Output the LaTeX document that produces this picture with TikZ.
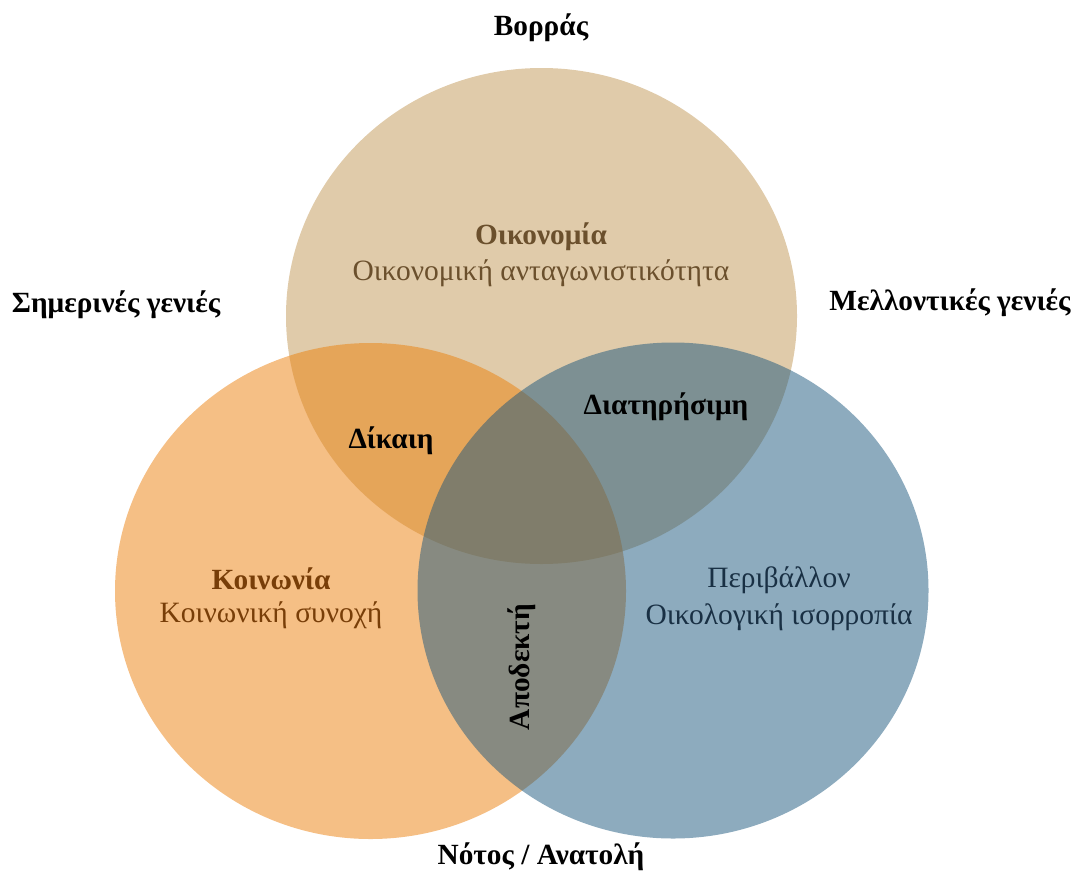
\documentclass[tikz,border=0pt]{standalone}
\usepackage{fontspec}
\setmainfont{Liberation Serif}
\usetikzlibrary{shapes.geometric}
\definecolor{ecoC}{RGB}{193,151,85}
\definecolor{socC}{RGB}{235,127,11}
\definecolor{envC}{RGB}{27,87,125}
\definecolor{ecoT}{RGB}{107,80,45}
\definecolor{socT}{RGB}{120,62,8}
\definecolor{envT}{RGB}{25,48,68}
\tikzset{
  venn/.style={ellipse, draw=none, minimum width=511pt, minimum height=496pt, inner sep=0pt, fill opacity=0.5},
  bold lbl/.style={font=\fontsize{29.3}{34}\selectfont\bfseries, text=black, inner sep=0pt},
  reg lbl/.style={font=\fontsize{29.5}{34}\selectfont, inner sep=0pt},
}
\begin{document}
\begin{tikzpicture}[x=1pt,y=-1pt]
\useasboundingbox (0,0) rectangle (1075,870);
\node[venn, fill=ecoC] (eco) at (541.5,316) {};
\node[venn, fill=socC] (soc) at (370.5,591) {};
\node[venn, fill=envC] (env) at (673,590.5) {};
\node[bold lbl] (north) at (541,28) {Βορράς};
\node[bold lbl] (south) at (541,857) {Νότος / Ανατολή};
\node[bold lbl] (present) at (116,305) {Σημερινές γενιές};
\node[bold lbl] (future) at (950,303) {Μελλοντικές γενιές};
\node[bold lbl, text=ecoT] (econame) at (541,237) {Οικονομία};
\node[reg lbl, text=ecoT] (ecodesc) at (541,273) {Οικονομική ανταγωνιστικότητα};
\node[bold lbl, text=socT] (socname) at (271,579) {Κοινωνία};
\node[reg lbl, text=socT] (socdesc) at (271,615) {Κοινωνική συνοχή};
\node[reg lbl, text=envT] (envname) at (779,580) {Περιβάλλον};
\node[reg lbl, text=envT] (envdesc) at (779,617) {Οικολογική ισορροπία};
\node[bold lbl] (fair) at (391,441) {Δίκαιη};
\node[bold lbl] (sust) at (666,407) {Διατηρήσιμη};
\node[bold lbl, rotate=90] (acc) at (522,667) {Αποδεκτή};
\end{tikzpicture}
\end{document}
